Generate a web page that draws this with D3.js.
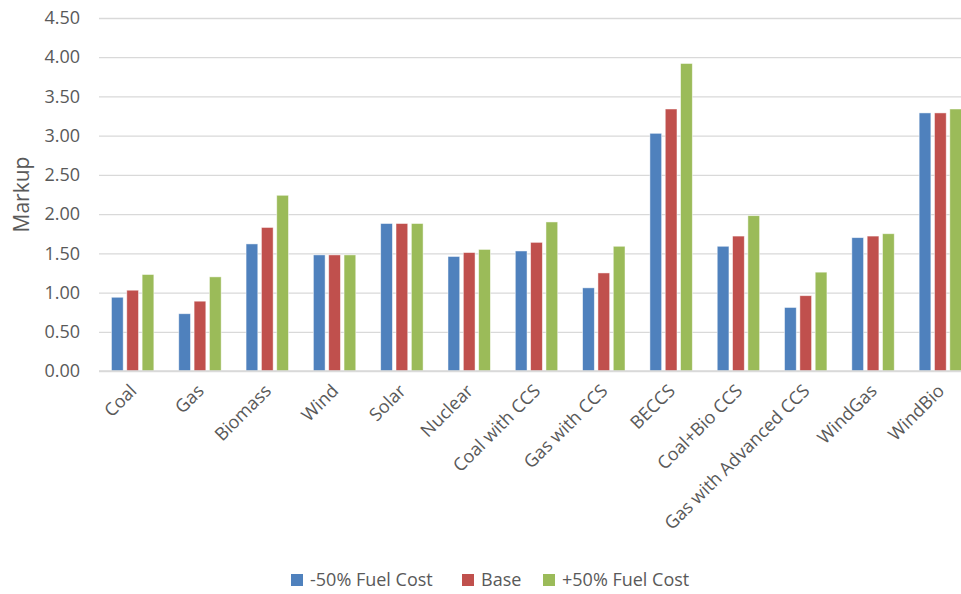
<!DOCTYPE html>
<html>
<head>
<meta charset="utf-8">
<script src="https://cdn.jsdelivr.net/npm/d3@7"></script>
<style>
  body { margin: 0; background: #fff; }
  svg { display: block; font-family: "Open Sans", sans-serif; }
  .tick text { fill: #595959; }
</style>
</head>
<body>
<script>
// chart data
var categories = ["Coal", "Gas", "Biomass", "Wind", "Solar", "Nuclear", "Coal with CCS",
  "Gas with CCS", "BECCS", "Coal+Bio CCS", "Gas with Advanced CCS", "WindGas", "WindBio"];
var seriesNames = ["-50% Fuel Cost", "Base", "+50% Fuel Cost"];
var lowFuel  = [0.94, 0.73, 1.62, 1.48, 1.88, 1.46, 1.53, 1.06, 3.03, 1.59, 0.81, 1.70, 3.29];
var baseCase = [1.03, 0.89, 1.83, 1.48, 1.88, 1.51, 1.64, 1.25, 3.34, 1.72, 0.96, 1.72, 3.29];
var highFuel = [1.23, 1.20, 2.24, 1.48, 1.88, 1.55, 1.90, 1.59, 3.92, 1.98, 1.26, 1.75, 3.34];
var yTicks = [0, 0.5, 1, 1.5, 2, 2.5, 3, 3.5, 4, 4.5];
var colors = ["#4f81bd", "#c0504d", "#9bbb59"];

var width = 961, height = 594;
var plotLeft = 99, plotRight = 974, plotTop = 18, plotBottom = 371;

var svg = d3.select("body").append("svg")
  .attr("width", width)
  .attr("height", height);

var y = d3.scaleLinear().domain([0, 4.5]).range([plotBottom, plotTop]);

var x0 = d3.scaleBand()
  .domain(categories)
  .range([plotLeft, plotRight])
  .paddingInner(0.37)
  .paddingOuter(0.185);

var x1 = d3.scaleBand()
  .domain(seriesNames)
  .range([0, x0.bandwidth()])
  .paddingInner(0.235);

// gridlines + y labels
var yAxis = svg.append("g")
  .attr("transform", "translate(" + plotLeft + ",0)")
  .call(d3.axisLeft(y).tickValues(yTicks).tickFormat(d3.format(".2f")).tickSize(-(width - plotLeft)).tickPadding(19));
yAxis.select(".domain").remove();
yAxis.selectAll(".tick line").attr("stroke", "#d9d9d9").attr("stroke-width", 1.3);
yAxis.selectAll(".tick text").attr("font-size", "18px").attr("font-family", "Open Sans, sans-serif");

svg.append("text")
  .attr("transform", "translate(29," + ((plotTop + plotBottom) / 2) + ") rotate(-90)")
  .attr("text-anchor", "middle")
  .attr("font-size", "21px")
  .attr("fill", "#595959")
  .text("Markup");

// bars
var table = categories.map(function (c, i) {
  return { cat: c, vals: [lowFuel[i], baseCase[i], highFuel[i]] };
});

var groups = svg.append("g").selectAll("g")
  .data(table)
  .join("g")
  .attr("transform", function (d) { return "translate(" + x0(d.cat) + ",0)"; });

groups.selectAll("rect")
  .data(function (d) {
    return d.vals.map(function (v, k) { return { s: seriesNames[k], v: v, k: k }; });
  })
  .join("rect")
  .attr("x", function (d) { return x1(d.s); })
  .attr("y", function (d) { return y(d.v); })
  .attr("width", x1.bandwidth())
  .attr("height", function (d) { return y(0) - y(d.v); })
  .attr("fill", function (d) { return colors[d.k]; })
  .attr("stroke", "#ffffff")
  .attr("stroke-opacity", 0.6)
  .attr("stroke-width", 0.8);

// x axis line (zero gridline drawn above the bars)
svg.append("line")
  .attr("x1", plotLeft).attr("x2", width)
  .attr("y1", y(0)).attr("y2", y(0))
  .attr("stroke", "#d9d9d9").attr("stroke-width", 1.3);

// category labels
svg.append("g").selectAll("text")
  .data(categories)
  .join("text")
  .attr("transform", function (d) {
    return "translate(" + (x0(d) + x0.bandwidth() / 2 + 5) + ",392) rotate(-45)";
  })
  .attr("text-anchor", "end")
  .attr("font-size", "18px")
  .attr("fill", "#595959")
  .text(function (d) { return d; });

// legend
var legendX = [291, 462, 543];
var legend = svg.append("g").selectAll("g")
  .data(seriesNames)
  .join("g")
  .attr("transform", function (d, i) { return "translate(" + legendX[i] + ",574)"; });

legend.append("rect")
  .attr("width", 12).attr("height", 12)
  .attr("fill", function (d, i) { return colors[i]; });

legend.append("text")
  .attr("x", 19).attr("y", 12)
  .attr("font-size", "18px")
  .attr("fill", "#595959")
  .text(function (d) { return d; });
</script>
</body>
</html>
